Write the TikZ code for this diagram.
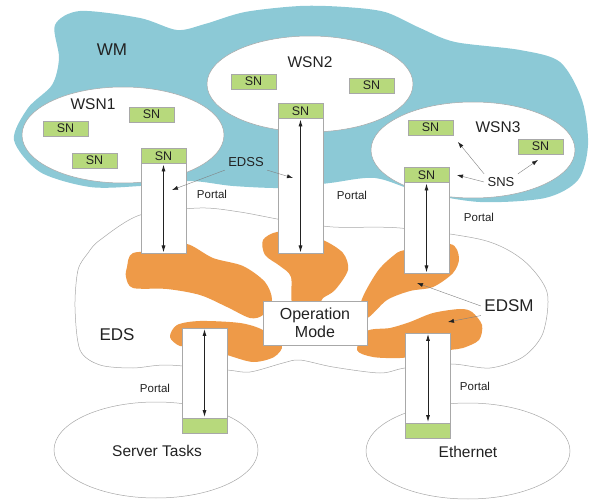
\documentclass[tikz,border=0pt]{standalone}
\usepackage{fontspec}
\setmainfont{Liberation Sans}
\usetikzlibrary{arrows.meta,positioning}
\definecolor{wmBlue}{HTML}{8CC9D6}
\definecolor{edsOrange}{HTML}{EE9A48}
\definecolor{snGreen}{HTML}{B7D97C}
\definecolor{rimGray}{HTML}{A8A8A8}
\definecolor{inkGray}{HTML}{222222}

\begin{document}
\begin{tikzpicture}[x=1pt,y=-1pt,text=inkGray,
  rim/.style={draw=rimGray,line width=0.5pt},
  sn/.style={rim,fill=snGreen,minimum width=45pt,minimum height=15pt,inner sep=0pt,font=\fontsize{12.5}{12.5}\selectfont},
  portal/.style={rim,fill=white,minimum width=45pt,inner sep=0pt,anchor=north},
  big/.style={font=\fontsize{17}{17}\selectfont},
  mid/.style={font=\fontsize{15.5}{15.5}\selectfont},
  small/.style={font=\fontsize{13}{13}\selectfont},
  tiny/.style={font=\fontsize{11.5}{11.5}\selectfont},
  link/.style={{Latex[length=7pt,width=4pt]}-{Latex[length=7pt,width=4pt]},line width=0.8pt,draw=inkGray,shorten <=1pt,shorten >=1pt},
  note/.style={-{Latex[length=6pt,width=4pt,color=inkGray]},draw=gray,line width=0.4pt},
  blob/.style={fill=edsOrange,draw=none}]
\useasboundingbox (0,0) rectangle (590,500);
\fill[wmBlue] plot[smooth cycle] coordinates {(55,25)(80,11)(140,18)(177,30)(205,24)(245,12)(300,6)(345,7)(385,12)(420,28)(455,42)(520,50)(560,62)(582,100)(588,145)(578,180)(545,198)(480,202)(420,192)(375,178)(330,183)(285,188)(233,186)(190,181)(140,186)(90,187)(40,172)(14,140)(28,108)(52,85)(59,58)};
\filldraw[rim,fill=white](123,135) ellipse[x radius=101,y radius=48];
\filldraw[rim,fill=white](310,84) ellipse[x radius=103,y radius=48];
\filldraw[rim,fill=white](473,150) ellipse[x radius=102,y radius=48];
\filldraw[rim,fill=white] plot[smooth cycle] coordinates {(100,240)(140,215)(200,208)(240,212)(283,220)(333,227)(400,228)(483,240)(523,260)(547,292)(543,333)(523,357)(490,368)(451,364)(405,368)(380,373)(333,367)(300,360)(283,363)(250,372)(227,370)(167,365)(133,368)(100,365)(80,350)(75,307)(78,270)(88,253)};
\filldraw[rim,fill=white](156,450) ellipse[x radius=102,y radius=48];
\filldraw[rim,fill=white](468,451) ellipse[x radius=102,y radius=48];
\fill[blob] plot[smooth cycle] coordinates {(127,267)(133,253)(167,251)(187,244)(213,258)(243,266)(265,282)(272,300)(263,315)(250,318)(227,307)(200,295)(167,289)(133,288)(126,277)};
\fill[blob] plot[smooth cycle] coordinates {(263,240)(277,232)(300,235)(323,240)(343,253)(348,270)(335,290)(323,298)(317,305)(293,305)(291,277)(280,266)(265,255)};
\fill[blob] plot[smooth cycle] coordinates {(405,250)(450,244)(459,258)(453,273)(433,287)(410,291)(387,300)(367,318)(361,302)(377,272)(393,256)};
\fill[blob] plot[smooth cycle] coordinates {(170,337)(177,325)(200,321)(240,323)(263,330)(282,345)(274,357)(253,362)(227,355)(200,347)(180,346)};
\fill[blob] plot[smooth cycle] coordinates {(357,350)(367,331)(390,328)(410,322)(433,313)(460,309)(472,312)(482,325)(479,340)(463,348)(450,350)(423,355)(400,358)(373,357)};

\node[big] (wm) at (112,50) {WM};
\node[mid] (wsnA) at (93,104) {WSN1};
\node[mid] (wsnB) at (310,62) {WSN2};
\node[mid] (wsnC) at (498,127) {WSN3};
\node[sn] (snA1) at (151.5,114.5) {SN};
\node[sn] (snA2) at (65.5,128.5) {SN};
\node[sn] (snA3) at (94.5,160.5) {SN};
\node[sn] (snB1) at (253.5,81.5) {SN};
\node[sn] (snB2) at (371.5,85.5) {SN};
\node[sn] (snC1) at (430.5,127.5) {SN};
\node[sn] (snC2) at (540.5,146.5) {SN};

\node[portal,minimum height=105pt] (p1) at (163.5,148) {};
\node[sn,anchor=north] (s1) at (p1.north) {SN};
\node[portal,minimum height=150pt] (p2) at (300.5,103) {};
\node[sn,anchor=north] (s2) at (p2.north) {SN};
\node[portal,minimum height=106pt] (p3) at (426.5,167) {};
\node[sn,anchor=north] (s3) at (p3.north) {SN};
\node[portal,minimum height=105pt] (p4) at (204.5,328) {};
\node[sn,anchor=south] (s4) at (p4.south) {};
\node[portal,minimum height=105pt] (p5) at (428,333) {};
\node[sn,anchor=south] (s5) at (p5.south) {};
\draw[link] (s1.south) -- (p1.south);
\draw[link] (s2.south) -- (p2.south);
\draw[link] (s3.south) -- (p3.south);
\draw[link] (p4.north) -- (s4.north);
\draw[link] (p5.north) -- (s5.north);

\node[rim,fill=white,minimum width=104pt,minimum height=44pt,align=center,inner sep=0pt,font=\fontsize{16}{18}\selectfont] (op) at (315,323) {Operation\\Mode};

\node[tiny] (pl1) at (212,194) {Portal};
\node[tiny] (pl2) at (352,195) {Portal};
\node[tiny] (pl3) at (479,217) {Portal};
\node[tiny] (pl4) at (155,388) {Portal};
\node[tiny] (pl5) at (475,386) {Portal};

\node[big] (eds) at (117,335) {EDS};
\node[big] (edsm) at (509,306) {EDSM};
\node[small] (edss) at (246,162) {EDSS};
\node[small] (sns) at (501,182) {SNS};
\node[mid] (srv) at (157,451) {Server Tasks};
\node[mid] (eth) at (468,452) {Ethernet};

\coordinate (tA) at (172,190);
\coordinate (tB) at (293,178);
\coordinate (tC) at (457,175);
\coordinate (tD) at (458,142);
\coordinate (tE) at (538,160);
\coordinate (tF) at (417,283);
\coordinate (tG) at (448,322);
\draw[note] (edss.south west) -- (tA);
\draw[note] (edss.south east) -- (tB);
\draw[note] (sns.west) -- (tC);
\draw[note] (sns.north west) -- (tD);
\draw[note] (sns.north east) -- (tE);
\draw[note] (edsm.west) -- (tF);
\draw[note] (edsm.south west) -- (tG);
\end{tikzpicture}
\end{document}
